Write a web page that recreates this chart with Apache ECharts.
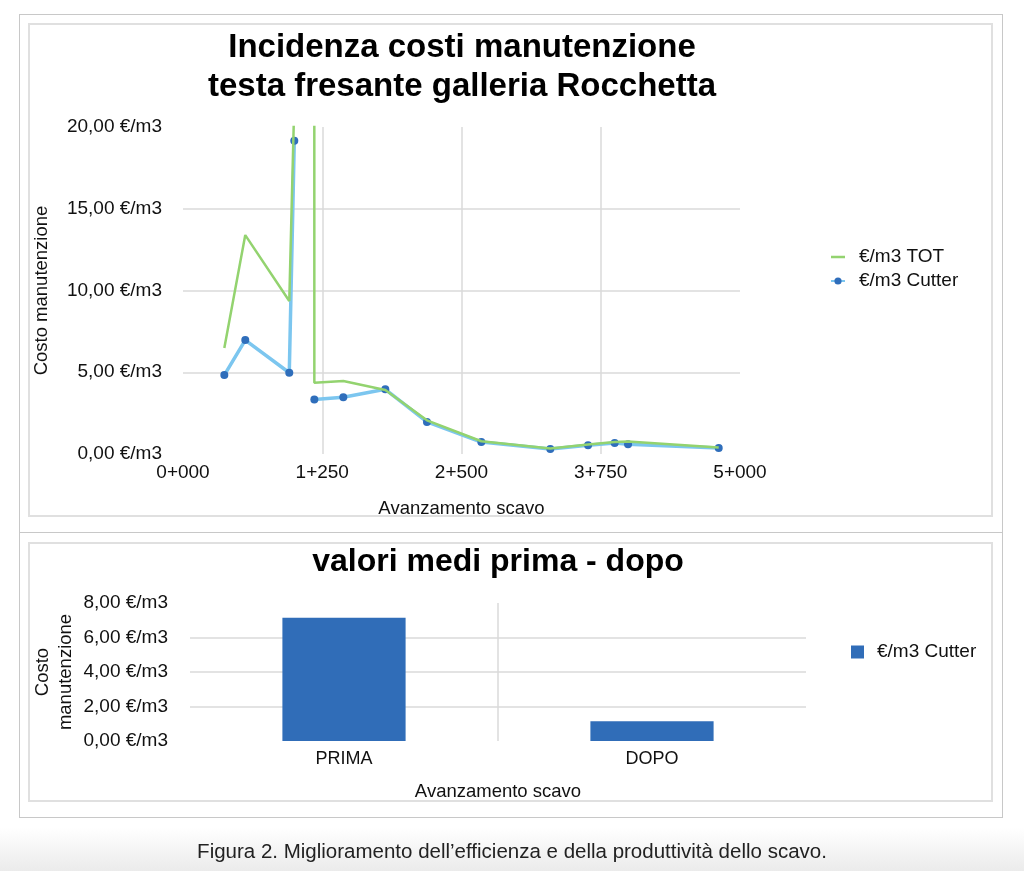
<!DOCTYPE html>
<html>
<head>
<meta charset="utf-8">
<script src="https://cdn.jsdelivr.net/npm/echarts@6/dist/echarts.min.js"></script>
<style>
  html, body { margin: 0; padding: 0; }
  body {
    width: 1024px; height: 871px; position: relative; overflow: hidden;
    background: linear-gradient(to bottom, #fff 0px, #fff 828px, #ebebeb 871px);
    font-family: "Liberation Sans", Arial, sans-serif;
  }
  .frame { position: absolute; box-sizing: border-box; }
  #outerTop { left: 19px; top: 14px; width: 984px; height: 519px; border: 1px solid #c8c8c8; border-bottom: none; }
  #outerBottom { left: 19px; top: 532px; width: 984px; height: 286px; border: 1px solid #c8c8c8; }
  #boxTop { left: 28px; top: 23px; width: 965px; height: 494px; border: 2px solid #e0e0e0; }
  #boxBottom { left: 28px; top: 542px; width: 965px; height: 260px; border: 2px solid #e0e0e0; }
  #chart { position: absolute; left: 0; top: 0; width: 1024px; height: 871px; }
  #caption { position: absolute; left: 0; width: 1024px; top: 839px; text-align: center; font-size: 20.5px; line-height: 24px; color: #222; }
</style>
</head>
<body>
<div class="frame" id="outerTop"></div>
<div class="frame" id="outerBottom"></div>
<div class="frame" id="boxTop"></div>
<div class="frame" id="boxBottom"></div>
<div id="chart"></div>
<div id="caption">Figura 2. Miglioramento dell’efficienza e della produttività dello scavo.</div>
<script>
// progressiva di scavo (m) e costi
const progressiva = [371, 559, 954, 999, 1178, 1179, 1439, 1816, 2190, 2678, 3297, 3636, 3875, 3995, 4809];
const costoTot    = [6.48, 13.39, 9.36, 21.5, 60, 4.36, 4.46, 3.92, 2.06, 0.78, 0.34, 0.58, 0.74, 0.76, 0.40];
const costoCutter = [4.83, 6.97, 4.97, 19.16, null, 3.34, 3.47, 3.96, 1.96, 0.73, 0.31, 0.53, 0.67, 0.59, 0.37];

// valori medi
const fasi = ["PRIMA", "DOPO"];
const mediaCutter = [7.15, 1.14];

const FONT = '"Liberation Sans", Arial, sans-serif';
const GRID = "#dadada";
const NONE = "rgba(0,0,0,0)";

const fmtEuro = v => v.toFixed(2).replace(".", ",") + " €/m3";
const fmtPk = v => Math.floor(v / 1000) + "+" + String(v % 1000).padStart(3, "0");

const chart = echarts.init(document.getElementById("chart"));

chart.setOption({
  backgroundColor: "transparent",
  animation: false,
  textStyle: { fontFamily: FONT },
  graphic: [
    {
      type: "text",
      style: {
        text: "Incidenza costi manutenzione\ntesta fresante galleria Rocchetta",
        x: 462, y: 67, textAlign: "center", textVerticalAlign: "middle",
        font: "bold 33px " + FONT, lineHeight: 39, fill: "#000"
      }
    },
    {
      type: "text",
      style: {
        text: "valori medi prima - dopo",
        x: 498, y: 562, textAlign: "center", textVerticalAlign: "middle",
        font: "bold 32px " + FONT, fill: "#000"
      }
    }
  ],
  legend: [
    {
      data: [
        { name: "€/m3 TOT", icon: "path://M0,0H14V2.5H0Z" },
        { name: "€/m3 Cutter" }
      ],
      orient: "vertical",
      left: 825, top: 242,
      itemWidth: 14, itemHeight: 9, itemGap: 4,
      textStyle: { fontSize: 19, color: "#111", lineHeight: 20, padding: [0, 0, 0, 9] }
    },
    {
      data: [{ name: "€/m3 Cutter ", icon: "rect" }],
      left: 846, top: 637,
      itemWidth: 13, itemHeight: 13,
      textStyle: { fontSize: 19, color: "#111", lineHeight: 20, padding: [0, 0, 0, 8] }
    }
  ],
  grid: [
    { left: 183, right: 284, top: 127, bottom: 417 },
    { left: 190, right: 218, top: 603, bottom: 130 }
  ],
  xAxis: [
    {
      gridIndex: 0, type: "value", min: 0, max: 5000, interval: 1250,
      axisLine: { show: false }, axisTick: { show: false },
      axisLabel: { formatter: fmtPk, fontSize: 19, color: "#111", margin: 9 },
      splitLine: { lineStyle: { color: [NONE, GRID, GRID, GRID, NONE], width: 1.5 } },
      name: "Avanzamento scavo", nameLocation: "middle", nameGap: 45,
      nameTextStyle: { fontSize: 18.5, color: "#111" }
    },
    {
      gridIndex: 1, type: "category", data: fasi,
      axisLine: { show: false }, axisTick: { show: false },
      axisLabel: { fontSize: 18, color: "#111", margin: 9 },
      splitLine: { show: true, lineStyle: { color: [NONE, GRID, NONE], width: 1.5 } },
      name: "Avanzamento scavo", nameLocation: "middle", nameGap: 41,
      nameTextStyle: { fontSize: 18.5, color: "#111" }
    }
  ],
  yAxis: [
    {
      gridIndex: 0, type: "value", min: 0, max: 20, interval: 5,
      axisLine: { show: false }, axisTick: { show: false },
      axisLabel: { formatter: fmtEuro, fontSize: 19, color: "#111", margin: 21 },
      splitLine: { lineStyle: { color: [NONE, GRID, GRID, GRID, NONE], width: 1.5 } },
      name: "Costo manutenzione", nameLocation: "middle", nameGap: 132,
      nameTextStyle: { fontSize: 18.5, color: "#111" }
    },
    {
      gridIndex: 1, type: "value", min: 0, max: 8, interval: 2,
      axisLine: { show: false }, axisTick: { show: false },
      axisLabel: { formatter: fmtEuro, fontSize: 19, color: "#111", margin: 22 },
      splitLine: { lineStyle: { color: [NONE, GRID, GRID, GRID, NONE], width: 1.5 } },
      name: "Costo\nmanutenzione", nameLocation: "middle", nameGap: 113,
      nameMoveOverlap: false,
      nameTextStyle: { fontSize: 18.5, color: "#111", lineHeight: 23 }
    }
  ],
  series: [
    {
      name: "€/m3 Cutter", type: "line", xAxisIndex: 0, yAxisIndex: 0,
      data: progressiva.map((x, i) => [x, costoCutter[i] === null ? "-" : costoCutter[i]]),
      symbol: "circle", symbolSize: 8,
      lineStyle: { color: "#7cc6ef", width: 3.5 },
      itemStyle: { color: "#2f6ebb" },
      z: 2
    },
    {
      name: "€/m3 TOT", type: "line", xAxisIndex: 0, yAxisIndex: 0,
      data: progressiva.map((x, i) => [x, costoTot[i]]),
      symbol: "none",
      lineStyle: { color: "#93d36f", width: 2.5 },
      itemStyle: { color: "#93d36f" },
      z: 3
    },
    {
      name: "€/m3 Cutter ", type: "bar", xAxisIndex: 1, yAxisIndex: 1,
      data: mediaCutter, barWidth: "40%",
      itemStyle: { color: "#306db8" }
    }
  ]
});
</script>
</body>
</html>
